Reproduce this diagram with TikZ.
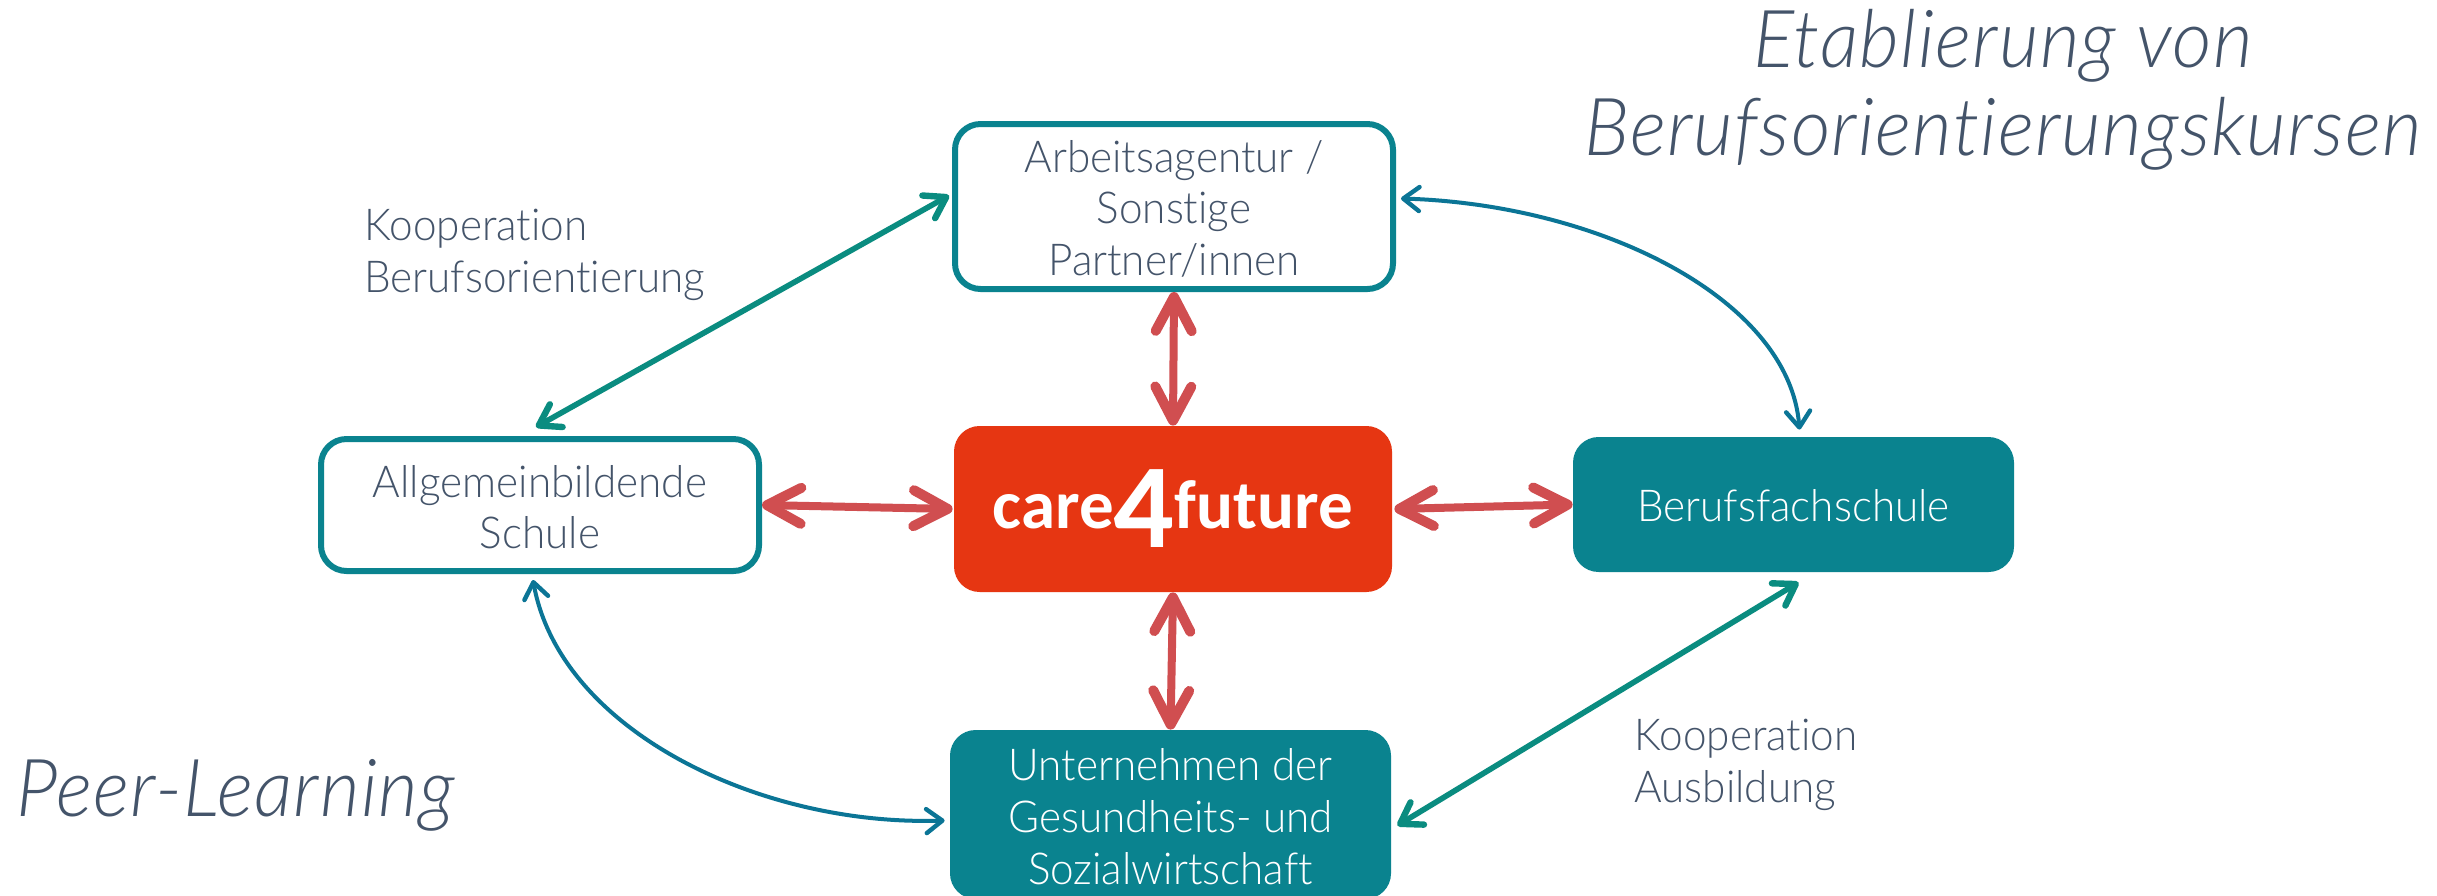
\documentclass[tikz,border=0pt]{standalone}
\usepackage{fontspec}
\usetikzlibrary{arrows.meta,calc}
\newfontfamily\lab[FakeStretch=0.96,Ligatures=NoCommon]{Lato Light}
\newfontfamily\labit[FakeStretch=0.96,Ligatures=NoCommon,LetterSpace=1.5]{Lato Light Italic}
\newfontfamily\logo{Carlito}[BoldFont=Carlito Bold]
\newcommand\lowr[2]{\raisebox{-#1}[\height][\depth]{#2}}
\definecolor{tealbox}{HTML}{0A838F}
\definecolor{greenarr}{HTML}{0A8C80}
\definecolor{bluearr}{HTML}{0B7596}
\definecolor{redarr}{HTML}{D04E50}
\definecolor{redbox}{HTML}{E63612}
\definecolor{txt}{HTML}{44546A}
\tikzset{
 boxbase/.style={rounded corners=12.8pt,align=center,inner sep=0pt,font=\lab\fontsize{22}{25.7}\selectfont},
 outlinebox/.style={boxbase,draw=tealbox,line width=3pt,fill=white,text=txt},
 solidbox/.style={boxbase,fill=tealbox,text=white},
 redarrow/.style={draw=redarr,line width=4pt,{Straight Barb[length=17pt,width=18pt,round,line width=5pt]}-{Straight Barb[length=17pt,width=18pt,round,line width=5pt]}},
 greenarrow/.style={draw=greenarr,line width=2.8pt,{Straight Barb[length=10pt,width=13pt,round,line width=3.2pt]}-{Straight Barb[length=10pt,width=13pt,round,line width=3.2pt]}},
 bluearrow/.style={draw=bluearr,line width=2pt,{Straight Barb[length=8pt,width=12pt,round,line width=2.2pt]}-{Straight Barb[length=8pt,width=12pt,round,line width=2.2pt]}},
 smalllabel/.style={text=txt,align=left,anchor=west,inner sep=0pt,font=\lab\fontsize{22}{25.7}\selectfont},
 biglabel/.style={text=txt,align=center,inner sep=0pt,font=\labit\fontsize{40}{44}\selectfont},
}
\begin{document}
\begin{tikzpicture}[x=0.5pt,y=-0.5pt]
\useasboundingbox (0,0) rectangle (2437,895);
\clip (0,0) rectangle (2437,895);
\fill[white] (0,0) rectangle (2437,895);
\node[outlinebox,minimum width=219pt,minimum height=82.5pt] (arb) at (1174,206.5) {\lowr{1pt}{Arbeitsagentur /}\\\lowr{0.8pt}{Sonstige}\\\lowr{1.5pt}{Partner/innen}};
\node[outlinebox,minimum width=219pt,minimum height=66pt] (all) at (540,505) {\lowr{1.2pt}{Allgemeinbildende}\\\lowr{1.2pt}{Schule}};
\node[boxbase,fill=redbox,text=white,minimum width=219pt,minimum height=83pt,font=\logo\bfseries\fontsize{34.5}{34.5}\selectfont] (c4f) at (1173,509) {care\raisebox{-9.5pt}{\fontsize{60}{60}\selectfont 4}future};
\node[solidbox,minimum width=220.5pt,minimum height=67.5pt] (bfs) at (1793.5,504.5) {\lowr{0.7pt}{Berufsfachschule}};
\node[solidbox,minimum width=220.5pt,minimum height=84.5pt] (unt) at (1170.5,814.5) {\lowr{0.7pt}{Unternehmen der}\\\lowr{1.2pt}{Gesundheits- und}\\\lowr{1.2pt}{Sozialwirtschaft}};
\node[smalllabel] (k1) at (364,255) {Kooperation\\Berufsorientierung};
\node[smalllabel] (k2) at (1634,765) {Kooperation\\Ausbildung};
\node[biglabel] (e1) at (2003,90) {Etablierung von\\Berufsorientierungskursen};
\node[biglabel,anchor=west] (p1) at (16,795) {Peer-Learning};
\draw[redarrow] (arb.south) -- (c4f.north);
\draw[redarrow] (c4f.south) -- (unt.north);
\draw[redarrow] (all.east) -- ($(c4f.west)+(-1,0)$);
\draw[redarrow] ($(c4f.east)+(2,0)$) -- (bfs.west);
\draw[greenarrow] ($(arb.west)+(-3,-11)$) -- ($(all.north)+(-4,-9)$);
\draw[greenarrow] ($(bfs.south)+(5,10)$) -- ($(unt.east)+(6,11)$);
\draw[bluearrow] ($(arb.east)+(5,-8)$) .. controls +(200,6) and +(-10,-130) .. ($(bfs.north)+(6,-7)$);
\draw[bluearrow] ($(all.south)+(-7,6)$) .. controls +(27,150) and +(-185,6) .. ($(unt.west)+(-5,6)$);
\end{tikzpicture}
\end{document}
